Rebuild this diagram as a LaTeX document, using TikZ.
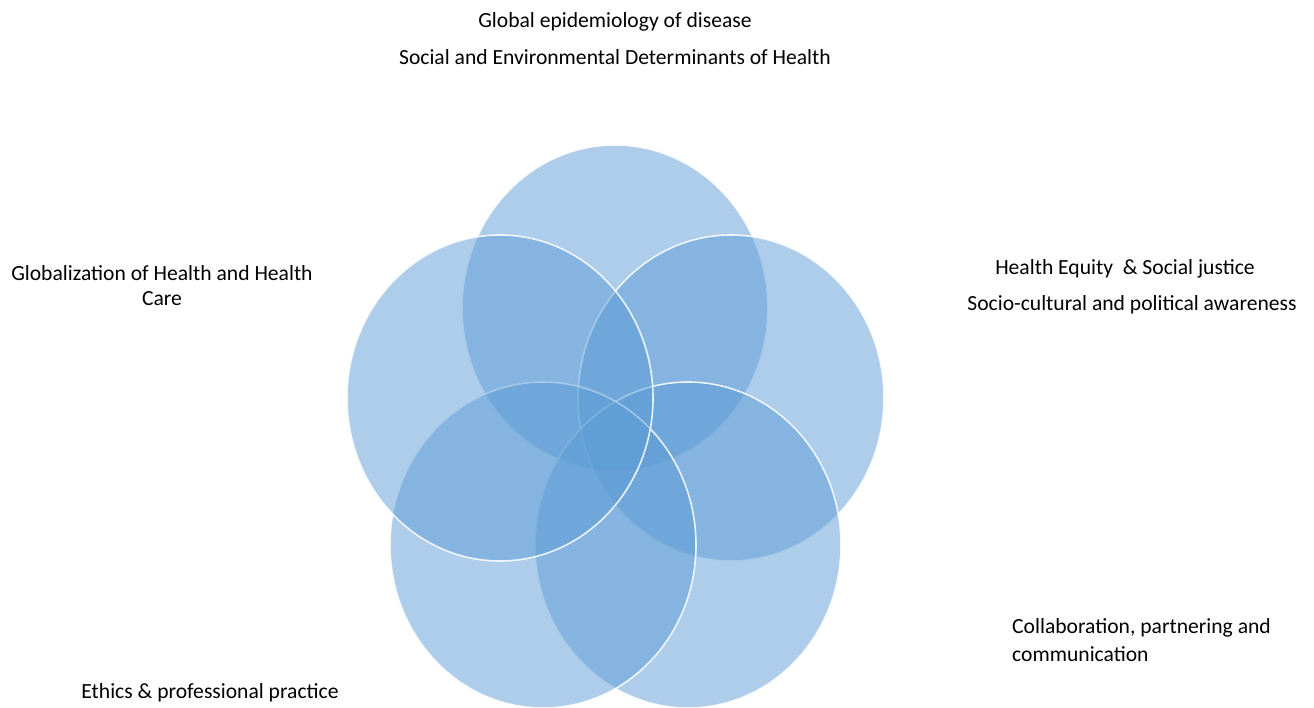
\documentclass[tikz,border=0pt]{standalone}
\usepackage{fontspec}
\setmainfont{Carlito}
\begin{document}
\begin{tikzpicture}[x=1pt,y=-1pt,
  blob/.style={fill=venn,fill opacity=0.5,draw=white,draw opacity=0.85,line width=1.6pt},
  lbl/.style={font=\fontsize{21.6}{25}\selectfont,inner sep=0pt,text=black}]
\definecolor{venn}{HTML}{5B9BD5}
\useasboundingbox (0,0) rectangle (1314,707);
% circles, drawn in clockwise order from the top
\draw[blob] (615,308) ellipse [x radius=153, y radius=163];
\draw[blob] (731,398) ellipse [x radius=153, y radius=163];
\draw[blob] (688,545) ellipse [x radius=153, y radius=163];
\draw[blob] (543,545) ellipse [x radius=153, y radius=163];
\draw[blob] (500,398) ellipse [x radius=153, y radius=163];
% labels
\node[lbl] (t1) at (615,22) {Global epidemiology of disease};
\node[lbl] (t2) at (615,57) {Social and Environmental Determinants of Health};
\node[lbl,align=center] (l1) at (162,286) {Globalization of Health and Health\\Care};
\node[lbl] (r1) at (1125,269) {Health Equity\ \ \& Social justice};
\node[lbl] (r2) at (1132,305) {Socio-cultural and political awareness};
\node[lbl,align=left,anchor=west] (b1) at (1012,640) {Collaboration, partnering and\\[3pt]communication};
\node[lbl] (b2) at (210,693) {Ethics \& professional practice};
\end{tikzpicture}
\end{document}
